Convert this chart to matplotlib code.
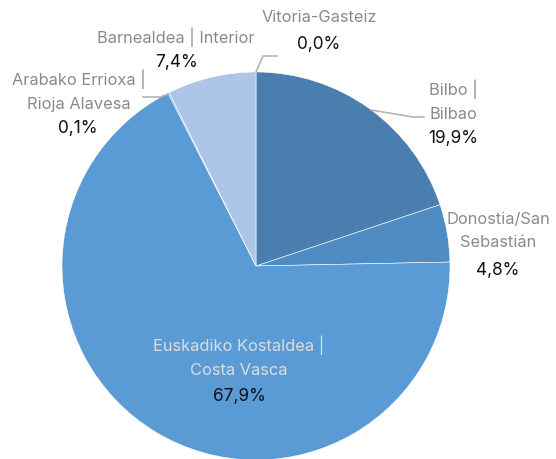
import matplotlib
matplotlib.use("Agg")
import matplotlib.pyplot as plt

categories = ["Vitoria-Gasteiz", "Bilbo |\nBilbao", "Donostia/San\nSebastián",
              "Euskadiko Kostaldea |\nCosta Vasca", "Arabako Errioxa |\nRioja Alavesa",
              "Barnealdea | Interior"]
values = [0.0, 19.9, 4.8, 67.9, 0.1, 7.4]
value_labels = ["0,0%", "19,9%", "4,8%", "67,9%", "0,1%", "7,4%"]
colors = ["#3f6f9f", "#4a7eae", "#4f8cc3", "#5b9bd5", "#5b9bd5", "#adc6e7"]

plt.rcParams['font.family'] = ['Inter', 'DejaVu Sans']

W, H = 556, 459
fig = plt.figure(figsize=(W / 100, H / 100), dpi=100)
ax = fig.add_axes([0, 0, 1, 1])

cx, cy, r = 256, 266, 194
# inverted-y axes: counterclock=True appears clockwise on screen
ax.pie(values, colors=colors, center=(cx, cy), radius=r, startangle=-90,
       counterclock=True, wedgeprops=dict(edgecolor='white', linewidth=0.4),
       frame=True)
ax.set_xlim(0, W)
ax.set_ylim(H, 0)
ax.set_aspect('equal')
ax.axis('off')

gray = '#8a8a8a'
dark = '#111111'
fs = 11.8

label_pos = [(319, 18), (453, 101), (498, 231), (239, 357), (79, 91), (176, 37)]
value_pos = [(319, 44), (453, 139), (498, 270), (239, 396), (78, 128), (176, 63)]
label_cols = [gray, gray, gray, '#dcdcdc', gray, gray]

for i in range(len(categories)):
    lx, ly = label_pos[i]
    ax.text(lx, ly, categories[i], ha='center', va='center', fontsize=fs,
            color=label_cols[i], linespacing=1.65)
    vx, vy = value_pos[i]
    ax.text(vx, vy, value_labels[i], ha='center', va='center', fontsize=fs + 0.6,
            color=dark)

lc = '#b5b5b5'
ax.plot([256, 263, 277], [72, 56, 56], color=lc, lw=1.2)
ax.plot([168, 160, 143], [94, 97, 97], color=lc, lw=1.2)
ax.plot([371, 413, 424], [110, 117, 117], color=lc, lw=1.2)

fig.savefig("out.png", dpi=100)
